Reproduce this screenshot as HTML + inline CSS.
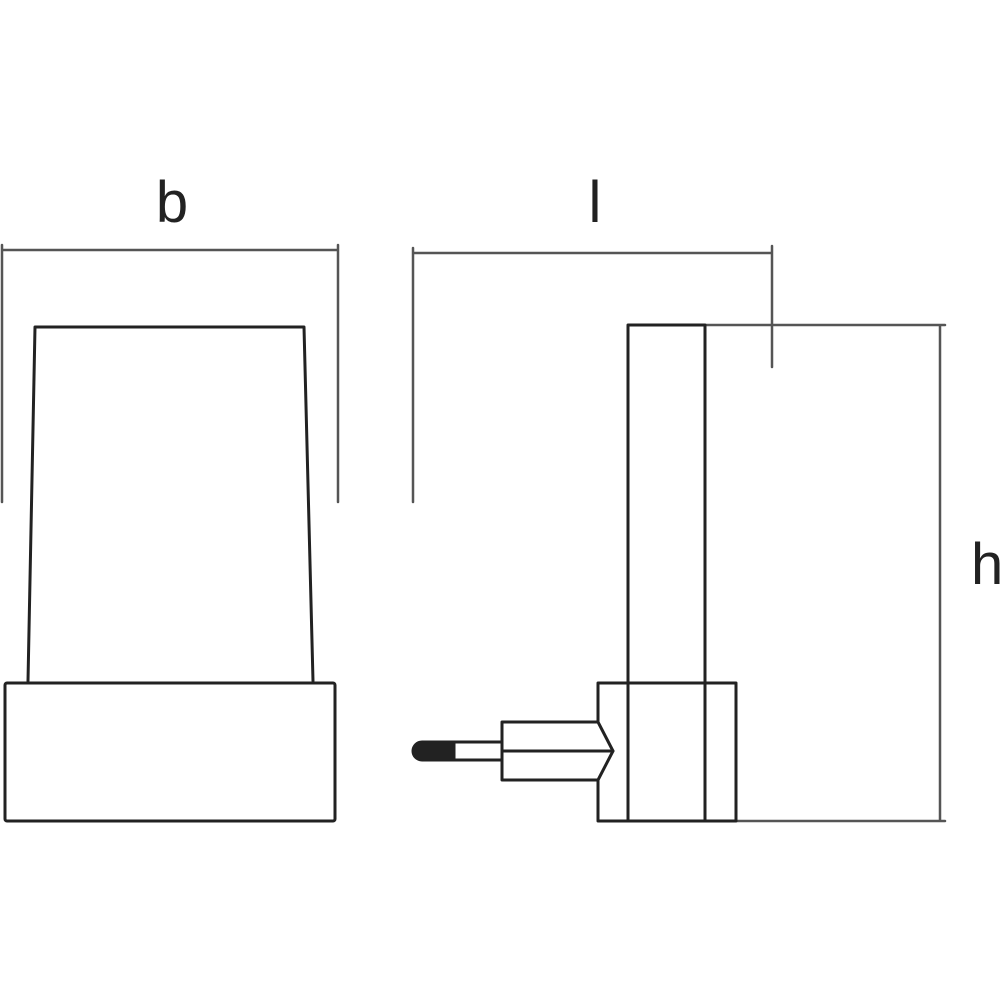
<!DOCTYPE html>
<html><head><meta charset="utf-8"><style>
html,body{margin:0;padding:0;background:#fff;}
svg{display:block;}
text{font-family:"Liberation Sans",sans-serif;fill:#222;}
</style></head><body>
<svg width="1000" height="1000" viewBox="0 0 1000 1000" xmlns="http://www.w3.org/2000/svg">
<g fill="none" stroke-linejoin="round" stroke-linecap="round">
<!-- dimension lines (grey) -->
<g stroke="#555" stroke-width="2.5">
<path d="M2 250 H338 M2 245 V502 M338 245 V502"/>
<path d="M413 253 H772 M413 248 V502 M772 246 V367"/>
<path d="M705 325 H945 M940 325 V821 M736 821 H945"/>
</g>
<!-- left object -->
<g stroke="#222" stroke-width="3">
<path d="M28 681 L35 327 H304 L313 681"/>
<rect x="5" y="683" width="330" height="138" rx="2"/>
</g>
<!-- right object -->
<g stroke="#222" stroke-width="3">
<path d="M628 683 V325 H705 V683"/>
<path d="M598 722 V683 H736 V821 H598 V780"/>
<path d="M628 683 V821 M705 683 V821"/>
<path d="M598 722 H502 V780 H598 L613 751 L598 722"/>
<path d="M502 751 H613"/>
<path d="M455 742 H502 M455 760 H502"/>
</g>
<path d="M455 741 H422 A10 10 0 0 0 422 761 H455 Z" fill="#222" stroke="#222" stroke-width="1"/>
</g>
<text x="172" y="222" font-size="58" text-anchor="middle">b</text>
<text x="595" y="222" font-size="58" text-anchor="middle">l</text>
<text x="971" y="584" font-size="58">h</text>
</svg>
</body></html>
